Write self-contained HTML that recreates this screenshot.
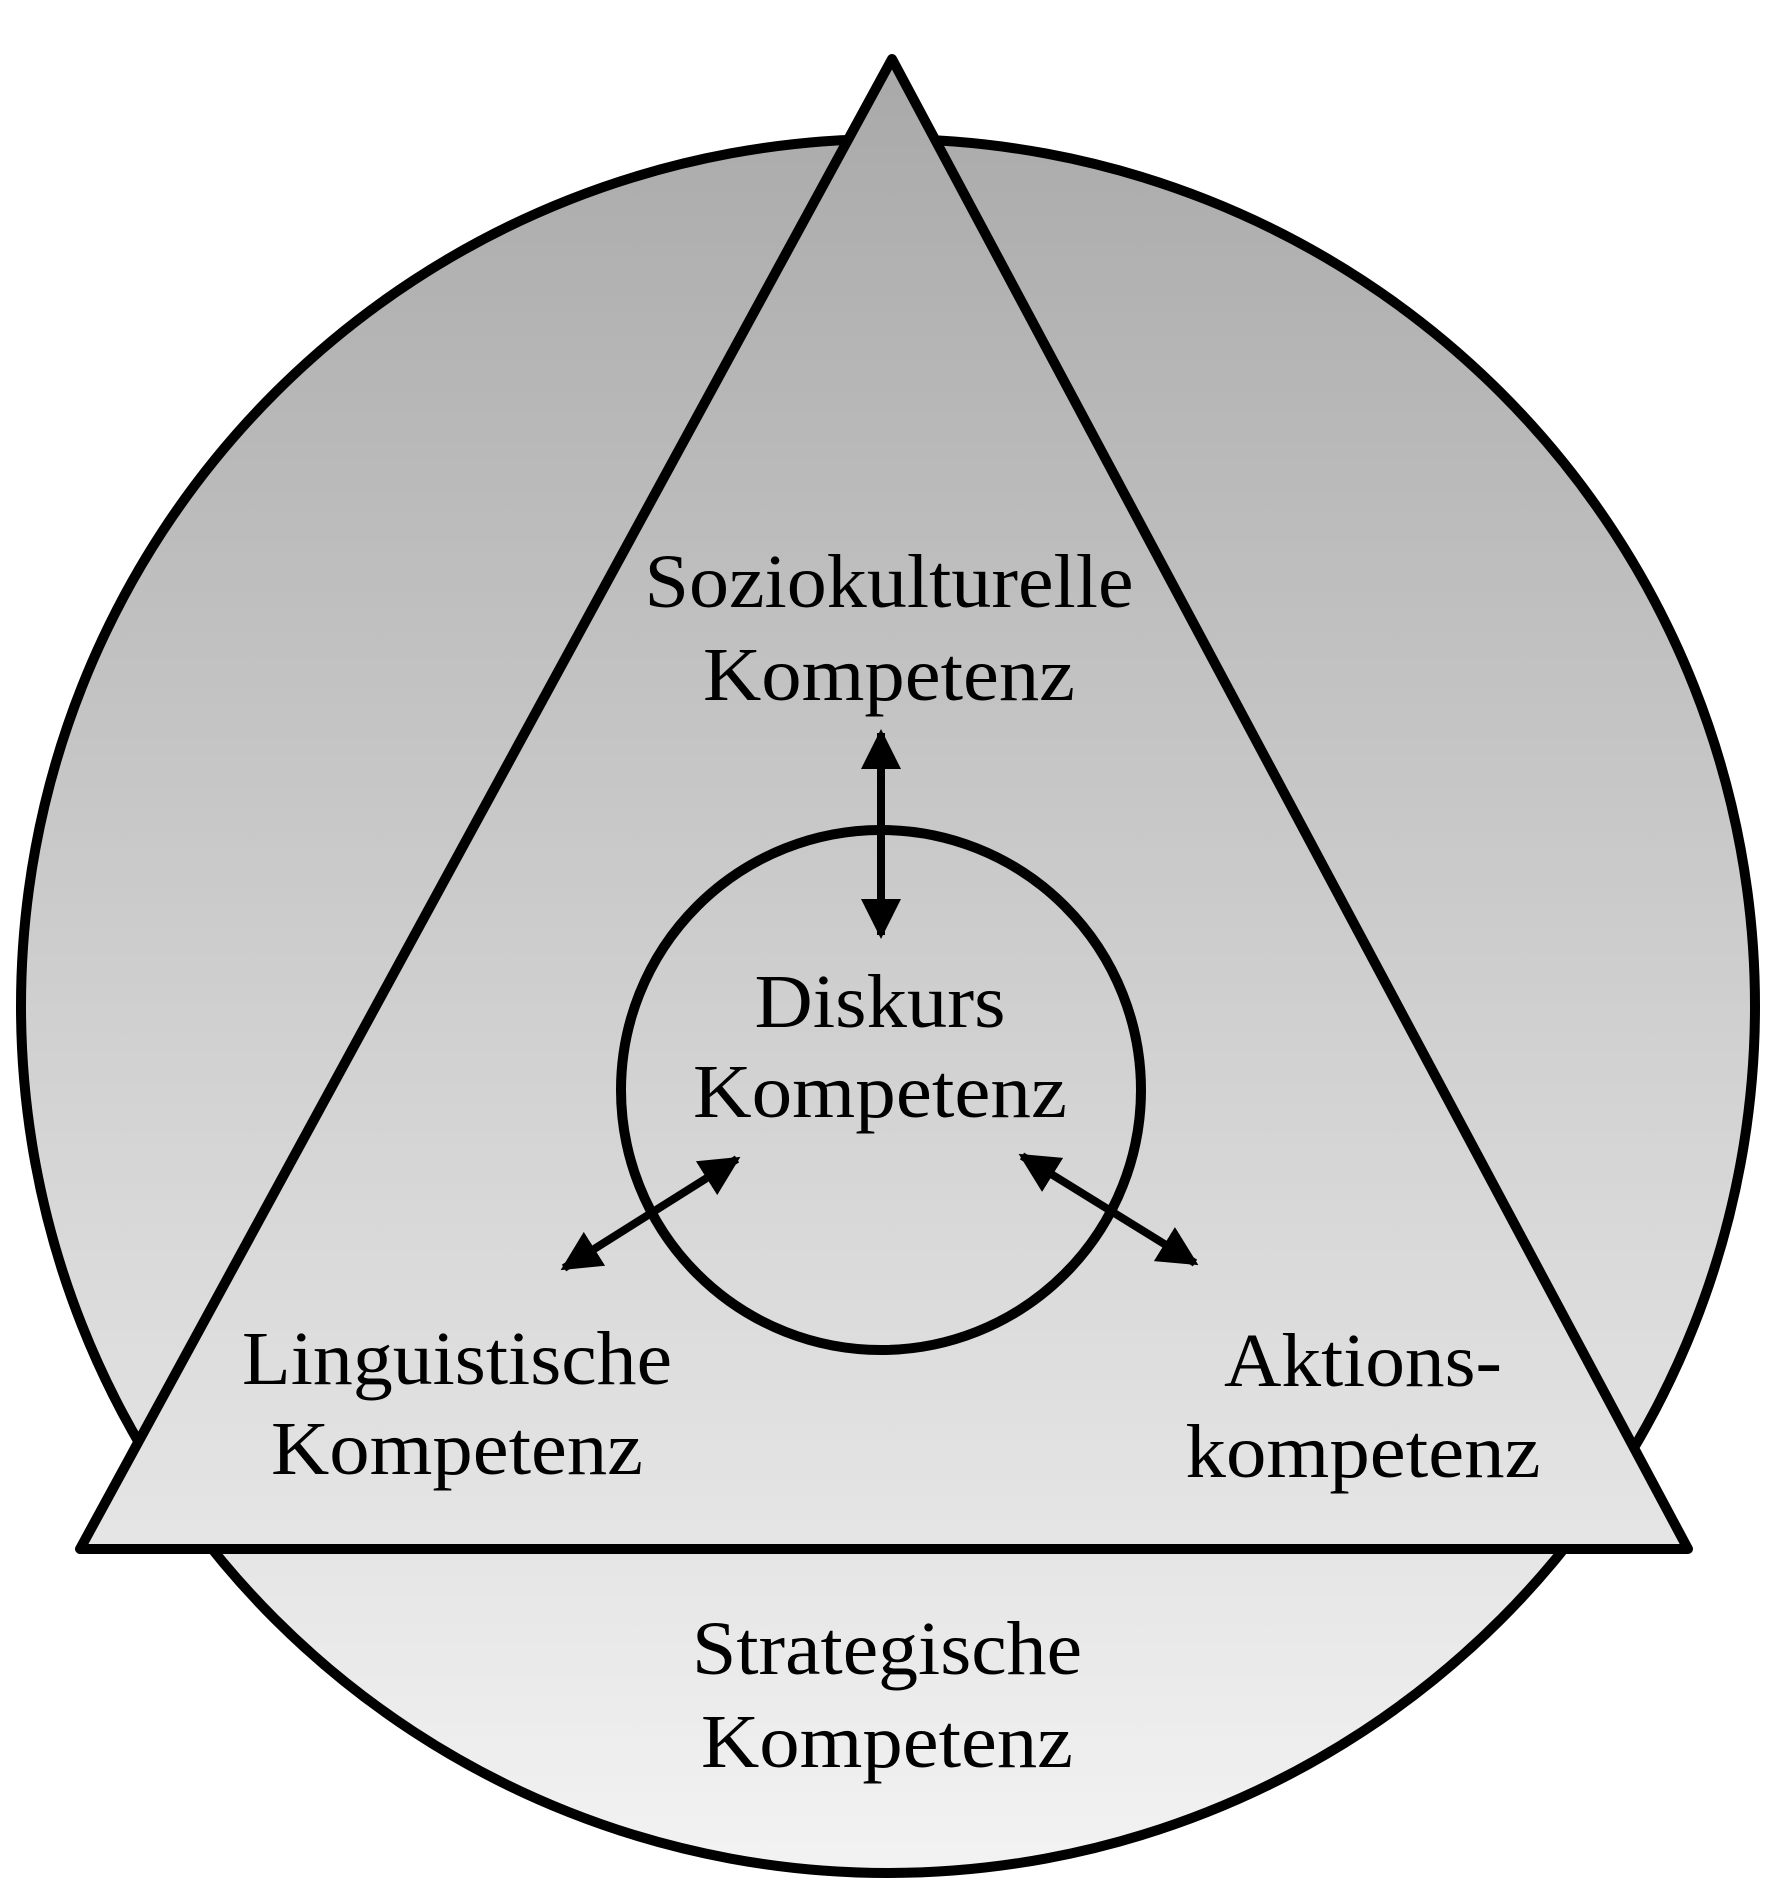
<!DOCTYPE html>
<html><head><meta charset="utf-8"><style>html,body{margin:0;padding:0;background:#fff}svg{display:block}</style></head>
<body>
<svg width="1776" height="1900" viewBox="0 0 1776 1900" xmlns="http://www.w3.org/2000/svg">
<defs>
<linearGradient id="g" gradientUnits="userSpaceOnUse" x1="0" y1="54" x2="0" y2="1880">
<stop offset="0" stop-color="#a9a9a9"/><stop offset="1" stop-color="#f3f3f3"/>
</linearGradient>
<marker id="a" viewBox="0 0 10 10" refX="9" refY="5" markerWidth="5" markerHeight="5" orient="auto-start-reverse" markerUnits="strokeWidth">
<path d="M0,0 L10,5 L0,10 z" fill="#000"/></marker>
</defs>
<g transform="translate(4,3)">
<circle cx="884" cy="1003" r="867" fill="url(#g)" stroke="#000" stroke-width="10"/>
<polygon points="888,56 76,1546 1684,1546" fill="url(#g)" stroke="#000" stroke-width="10" stroke-linejoin="round"/>
<circle cx="877" cy="1087" r="260" fill="none" stroke="#000" stroke-width="10"/>
<g stroke="#000" stroke-width="8" fill="none">
<line x1="877" y1="730" x2="877" y2="932" marker-start="url(#a)" marker-end="url(#a)"/>
<line x1="560" y1="1265" x2="733" y2="1156" marker-start="url(#a)" marker-end="url(#a)"/>
<line x1="1018" y1="1153" x2="1191" y2="1260" marker-start="url(#a)" marker-end="url(#a)"/>
</g>
<g font-family="'Liberation Serif',serif" font-size="76" text-anchor="middle" fill="#000">
<text x="885" y="604" textLength="489" lengthAdjust="spacingAndGlyphs">Soziokulturelle</text>
<text x="885" y="697" textLength="372" lengthAdjust="spacingAndGlyphs">Kompetenz</text>
<text x="876" y="1024" textLength="251" lengthAdjust="spacingAndGlyphs">Diskurs</text>
<text x="876" y="1114" textLength="374" lengthAdjust="spacingAndGlyphs">Kompetenz</text>
<text x="453" y="1381" textLength="430" lengthAdjust="spacingAndGlyphs">Linguistische</text>
<text x="453" y="1471" textLength="372" lengthAdjust="spacingAndGlyphs">Kompetenz</text>
<text x="1359" y="1383" textLength="278" lengthAdjust="spacingAndGlyphs">Aktions-</text>
<text x="1359" y="1474" textLength="355" lengthAdjust="spacingAndGlyphs">kompetenz</text>
<text x="883" y="1671" textLength="390" lengthAdjust="spacingAndGlyphs">Strategische</text>
<text x="883" y="1764" textLength="372" lengthAdjust="spacingAndGlyphs">Kompetenz</text>
</g>
</g>
</svg>
</body></html>
